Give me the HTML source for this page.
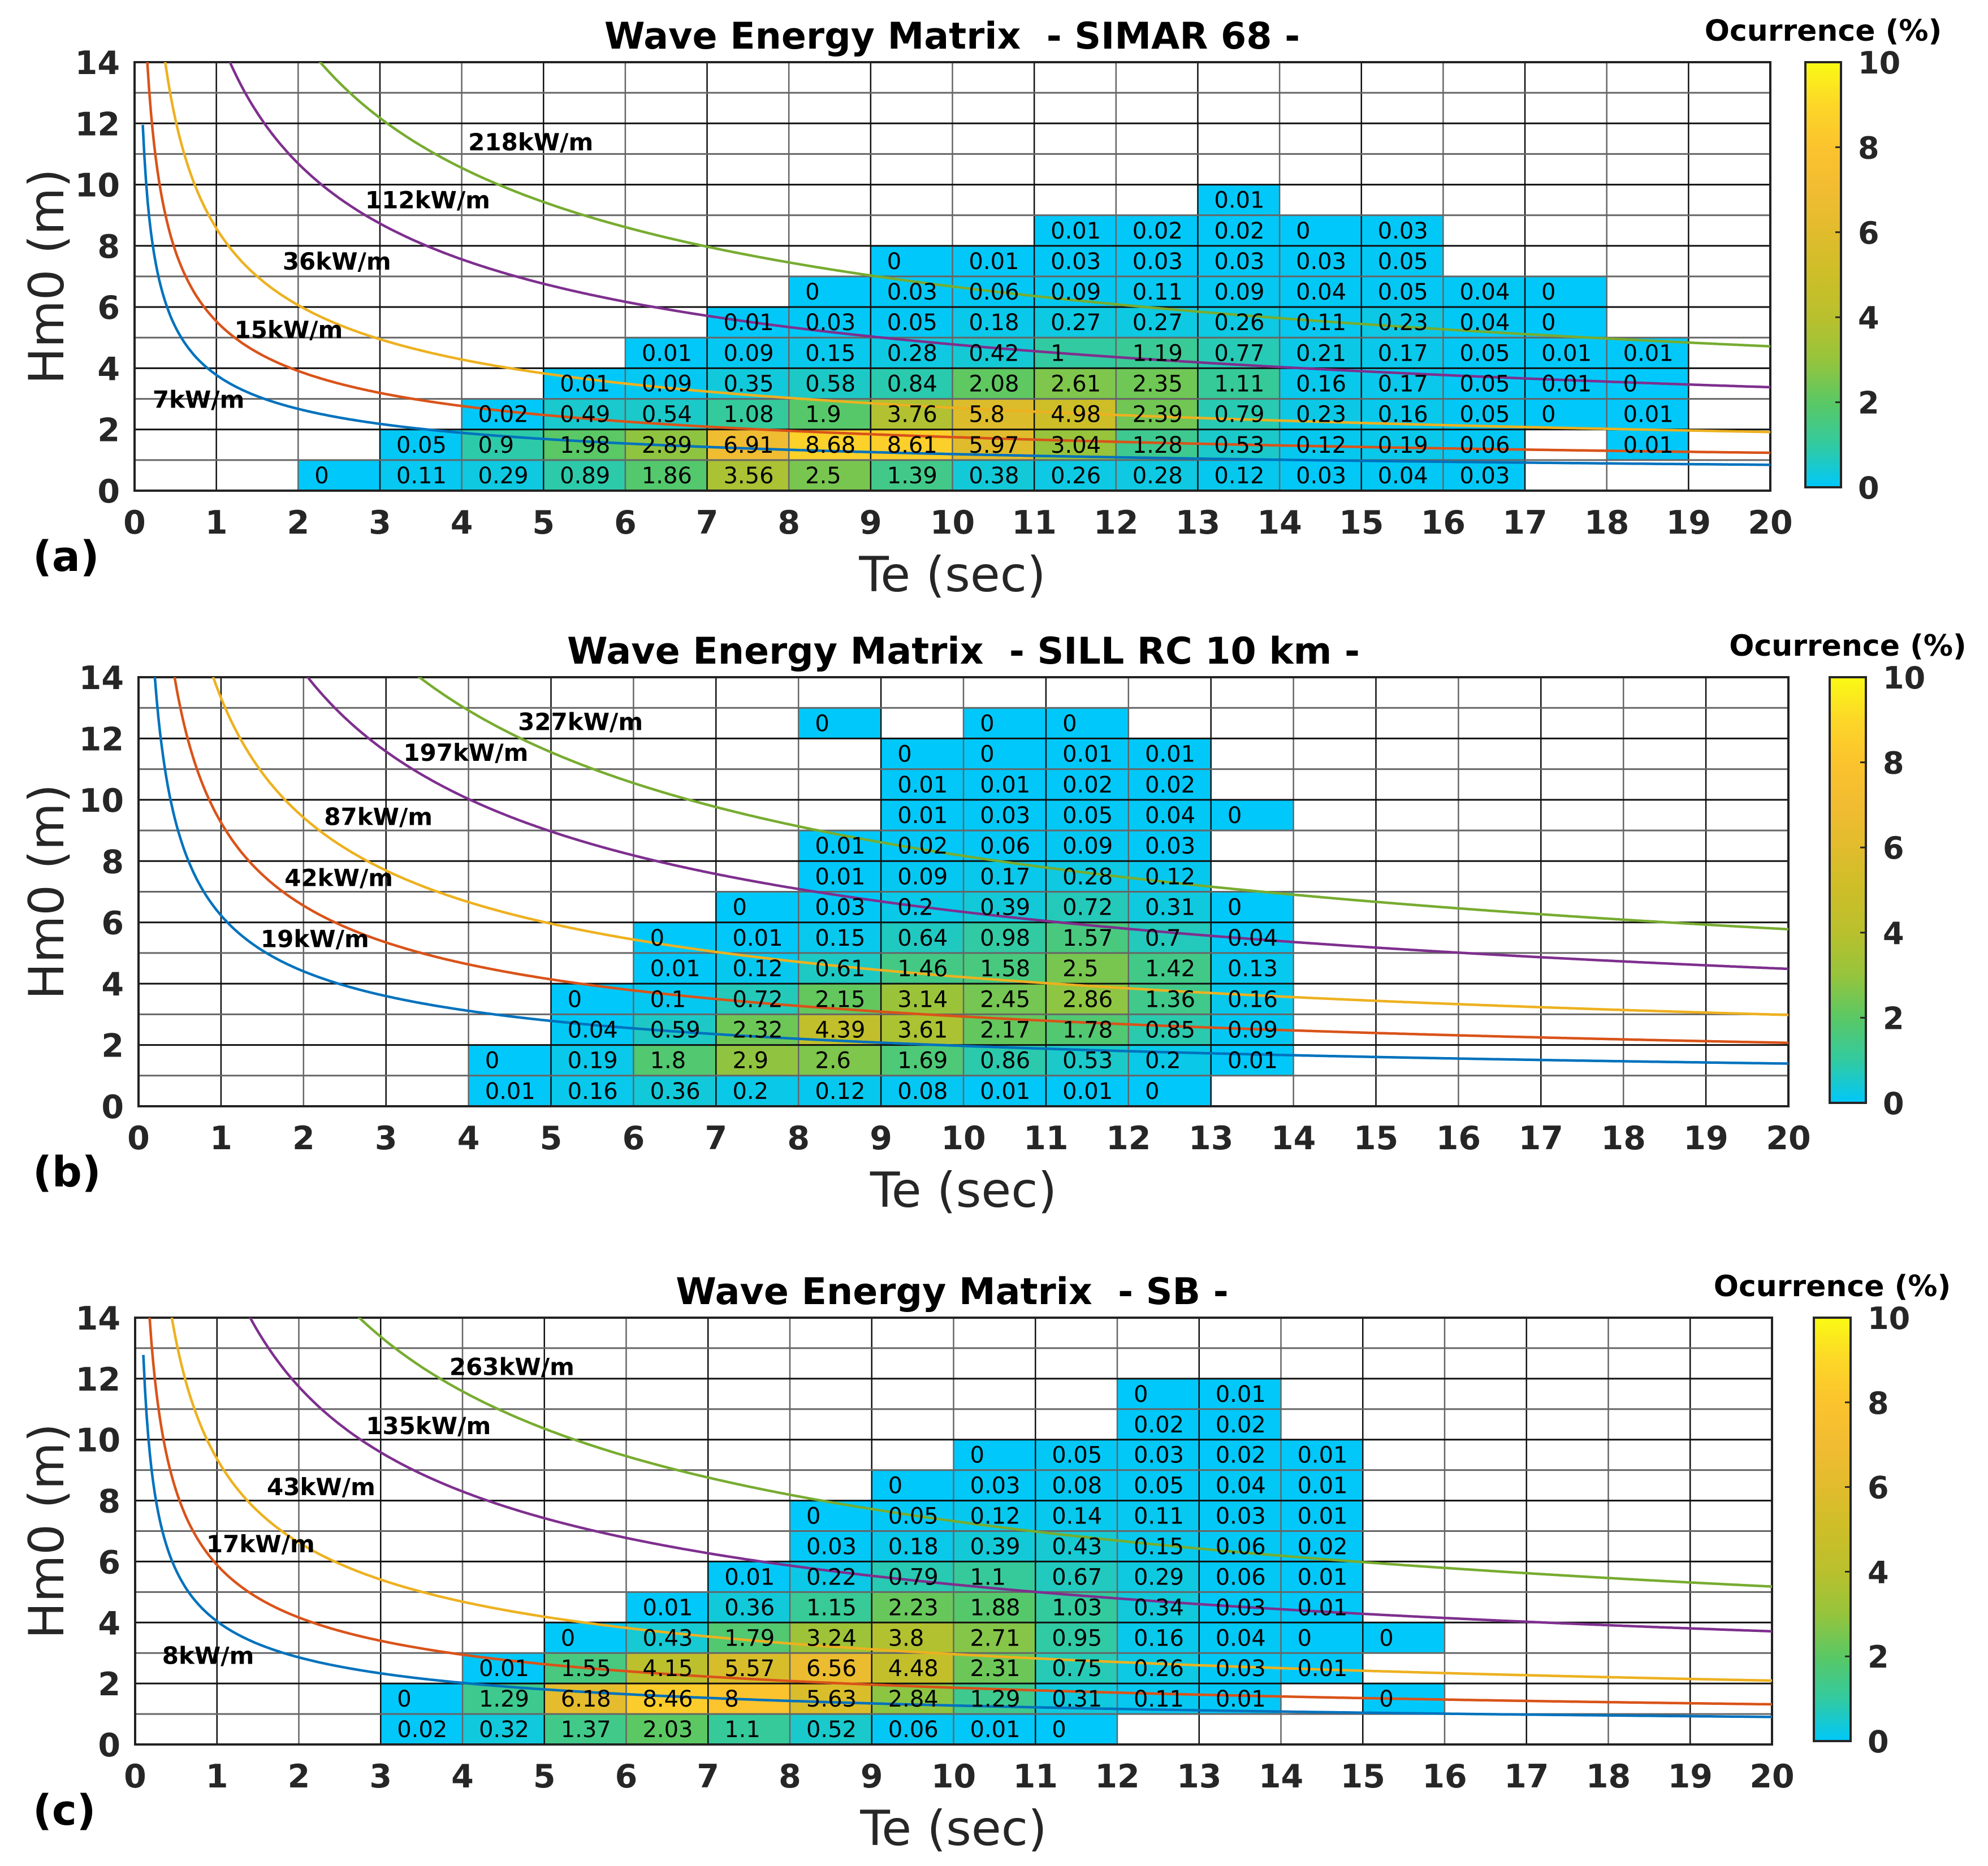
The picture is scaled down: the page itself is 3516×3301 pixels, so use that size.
<!DOCTYPE html>
<html><head><meta charset="utf-8">
<style>
html,body{margin:0;padding:0;background:#fff;}
svg{display:block;}
text{font-family:"DejaVu Sans","Liberation Sans",sans-serif;}
</style></head>
<body>
<svg id="fig" xmlns="http://www.w3.org/2000/svg" width="3516" height="3301" viewBox="0 0 3516 3301">
<defs>
<linearGradient id="cmap" x1="0" y1="1" x2="0" y2="0">
<stop offset="0" stop-color="rgb(0,200,250)"/>
<stop offset="0.1" stop-color="rgb(50,202,160)"/>
<stop offset="0.2" stop-color="rgb(90,200,100)"/>
<stop offset="0.3" stop-color="rgb(150,196,60)"/>
<stop offset="0.4" stop-color="rgb(185,192,45)"/>
<stop offset="0.5" stop-color="rgb(205,190,40)"/>
<stop offset="0.6" stop-color="rgb(225,188,45)"/>
<stop offset="0.7" stop-color="rgb(242,188,50)"/>
<stop offset="0.8" stop-color="rgb(251,195,45)"/>
<stop offset="0.9" stop-color="rgb(252,215,40)"/>
<stop offset="1" stop-color="rgb(250,250,20)"/>
</linearGradient>
</defs>
</svg>
<script>
const aRows = [
 {start:2, vals:[0,0.11,0.29,0.89,1.86,3.56,2.5,1.39,0.38,0.26,0.28,0.12,0.03,0.04,0.03]},
 {start:3, vals:[0.05,0.9,1.98,2.89,6.91,8.68,8.61,5.97,3.04,1.28,0.53,0.12,0.19,0.06,null,0.01]},
 {start:4, vals:[0.02,0.49,0.54,1.08,1.9,3.76,5.8,4.98,2.39,0.79,0.23,0.16,0.05,0,0.01]},
 {start:5, vals:[0.01,0.09,0.35,0.58,0.84,2.08,2.61,2.35,1.11,0.16,0.17,0.05,0.01,0]},
 {start:6, vals:[0.01,0.09,0.15,0.28,0.42,1,1.19,0.77,0.21,0.17,0.05,0.01,0.01]},
 {start:7, vals:[0.01,0.03,0.05,0.18,0.27,0.27,0.26,0.11,0.23,0.04,0]},
 {start:8, vals:[0,0.03,0.06,0.09,0.11,0.09,0.04,0.05,0.04,0]},
 {start:9, vals:[0,0.01,0.03,0.03,0.03,0.03,0.05]},
 {start:11, vals:[0.01,0.02,0.02,0,0.03]},
 {start:13, vals:[0.01]}
];
const bRows = [
 {start:4, vals:[0.01,0.16,0.36,0.2,0.12,0.08,0.01,0.01,0]},
 {start:4, vals:[0,0.19,1.8,2.9,2.6,1.69,0.86,0.53,0.2,0.01]},
 {start:5, vals:[0.04,0.59,2.32,4.39,3.61,2.17,1.78,0.85,0.09]},
 {start:5, vals:[0,0.1,0.72,2.15,3.14,2.45,2.86,1.36,0.16]},
 {start:6, vals:[0.01,0.12,0.61,1.46,1.58,2.5,1.42,0.13]},
 {start:6, vals:[0,0.01,0.15,0.64,0.98,1.57,0.7,0.04]},
 {start:7, vals:[0,0.03,0.2,0.39,0.72,0.31,0]},
 {start:8, vals:[0.01,0.09,0.17,0.28,0.12]},
 {start:8, vals:[0.01,0.02,0.06,0.09,0.03]},
 {start:9, vals:[0.01,0.03,0.05,0.04,0]},
 {start:9, vals:[0.01,0.01,0.02,0.02]},
 {start:9, vals:[0,0,0.01,0.01]},
 {start:8, vals:[0,null,0,0]}
];
const cRows = [
 {start:3, vals:[0.02,0.32,1.37,2.03,1.1,0.52,0.06,0.01,0]},
 {start:3, vals:[0,1.29,6.18,8.46,8,5.63,2.84,1.29,0.31,0.11,0.01,null,0]},
 {start:4, vals:[0.01,1.55,4.15,5.57,6.56,4.48,2.31,0.75,0.26,0.03,0.01]},
 {start:5, vals:[0,0.43,1.79,3.24,3.8,2.71,0.95,0.16,0.04,0,0]},
 {start:6, vals:[0.01,0.36,1.15,2.23,1.88,1.03,0.34,0.03,0.01]},
 {start:7, vals:[0.01,0.22,0.79,1.1,0.67,0.29,0.06,0.01]},
 {start:8, vals:[0.03,0.18,0.39,0.43,0.15,0.06,0.02]},
 {start:8, vals:[0,0.05,0.12,0.14,0.11,0.03,0.01]},
 {start:9, vals:[0,0.03,0.08,0.05,0.04,0.01]},
 {start:10, vals:[0,0.05,0.03,0.02,0.01]},
 {start:12, vals:[0.02,0.02]},
 {start:12, vals:[0,0.01]}
];
const aPowers = [7,15,36,112,218];
const bPowers = [19,42,87,197,327];
const cPowers = [8,17,43,135,263];
const aLabelPos = [[0.22,2.98],[1.22,5.26],[1.81,7.5],[2.82,9.5],[4.08,11.4]];
const bLabelPos = [[1.48,5.47],[1.77,7.46],[2.25,9.45],[3.21,11.55],[4.6,12.55]];
const cLabelPos = [[0.33,2.92],[0.87,6.58],[1.61,8.46],[2.82,10.46],[3.84,12.4]];
const xTicks = [0,1,2,3,4,5,6,7,8,9,10,11,12,13,14,15,16,17,18,19,20];
const yTicks = [0,2,4,6,8,10,12,14];
const cbTicks = [0,2,4,6,8,10];

const NS = "http://www.w3.org/2000/svg";
const svg = document.getElementById('fig');
const curveColors = ['#0072bd','#d95319','#edb120','#7e2f8e','#77ac30'];
const stops = [[0,200,250],[50,202,160],[90,200,100],[150,196,60],[185,192,45],[205,190,40],[225,188,45],[242,188,50],[251,195,45],[252,215,40],[250,250,20]];
function cmap(v){
  v=Math.max(0,Math.min(10,v));
  const i=Math.min(9,Math.floor(v)); const f=v-i;
  const a=stops[i], b=stops[i+1];
  return 'rgb('+a.map((c,k)=>Math.round(c+(b[k]-c)*f)).join(',')+')';
}
function el(tag, attrs, parent){
  const e=document.createElementNS(NS,tag);
  for(const k in attrs) e.setAttribute(k,attrs[k]);
  (parent||svg).appendChild(e); return e;
}

function panel(cfg){
  const g=el('g',{});
  
  
  const X=t=>cfg.L+(cfg.R-cfg.L)*t/20;
  const Y=h=>cfg.B-(cfg.B-cfg.T)*h/14;
  cfg.rows.forEach((row,r)=>{
    row.vals.forEach((v,k)=>{
      if(v===null) return;
      const c=row.start+k;
      const rc=el('rect',{x:X(c),y:Y(r+1),width:X(c+1)-X(c),height:Y(r)-Y(r+1),fill:cmap(v)},g);
      
      
    });
  });
  for(let i=0;i<=20;i++){
    const ln=el('line',{x1:X(i),x2:X(i),y1:cfg.T,y2:cfg.B,stroke:i%2?'#111':'#666','stroke-width':2.5},g);
    
    
  }
  for(let j=0;j<=14;j++){
    const ln=el('line',{x1:cfg.L,x2:cfg.R,y1:Y(j),y2:Y(j),stroke:j%2?'#666':'#111','stroke-width':3},g);
    
    
  }
  const fr=el('rect',{x:cfg.L,y:cfg.T,width:cfg.R-cfg.L,height:cfg.B-cfg.T,fill:'none',stroke:'#222','stroke-width':4},g);
  
  
  const cid='clip'+cfg.id;
  const cp=el('clipPath',{id:cid},g);
  el('rect',{x:cfg.L,y:cfg.T,width:cfg.R-cfg.L,height:cfg.B-cfg.T},cp);
  cfg.powers.forEach((P,k)=>{
    let d='';
    for(let t=0.1;t<=20.0001;t+=0.02){
      const h=Math.sqrt(P/(0.49*t));
      d+=(d?'L':'M')+X(t).toFixed(1)+','+Y(h).toFixed(1);
    }
    const p=el('path',{d:d,fill:'none',stroke:curveColors[k],'stroke-width':4.5,'clip-path':'url(#'+cid+')'},g);
    
    
  });
  cfg.rows.forEach((row,r)=>{
    row.vals.forEach((v,k)=>{
      if(v===null) return;
      const c=row.start+k;
      const t=el('text',{x:X(c+0.2),y:Y(r+0.5)+14,'font-size':40,fill:'#000'},g);
      t.textContent=String(v);
      
      
    });
  });
  cfg.powers.forEach((P,k)=>{
    const pos=cfg.labels[k];
    const t=el('text',{x:X(pos[0]),y:Y(pos[1])+15,'font-size':42,'font-weight':'bold',fill:'#000'},g);
    t.textContent=P+'kW/m';
    
    
  });
  xTicks.forEach(v=>{
    const t=el('text',{x:X(v),y:cfg.B+76,'font-size':57,'font-weight':'bold',fill:'#262626','text-anchor':'middle'},g);
    t.textContent=v;
    
    
  });
  yTicks.forEach(v=>{
    const t=el('text',{x:cfg.L-26,y:Y(v)+21,'font-size':57,'font-weight':'bold',fill:'#262626','text-anchor':'end'},g);
    t.textContent=v;
    
    
  });
  const xt=el('text',{x:(cfg.L+cfg.R)/2,y:cfg.B+178,'font-size':86,fill:'#262626','text-anchor':'middle'},g);
  xt.textContent='Te (sec)';
  
  
  const ym=(cfg.T+cfg.B)/2;
  const yt=el('text',{x:0,y:0,'font-size':86,fill:'#262626','text-anchor':'middle',transform:'translate(112,'+ym+') rotate(-90)'},g);
  yt.textContent='Hm0 (m)';
  
  
  const pl=el('text',{x:58,y:cfg.B+142,'font-size':74,'font-weight':'bold',fill:'#000'},g);
  pl.textContent=cfg.letter;
  
  
  const ti=el('text',{x:cfg.titleX,y:cfg.T-24,'font-size':65,'font-weight':'bold',fill:'#000','text-anchor':'middle','xml:space':'preserve'},g);
  ti.setAttributeNS('http://www.w3.org/XML/1998/namespace','xml:space','preserve');
  ti.textContent=cfg.title;
  
  
  const cb=el('rect',{x:cfg.cbL,y:cfg.T,width:cfg.cbW,height:cfg.B-cfg.T-6,fill:'url(#cmap)',stroke:'#262626','stroke-width':4},g);
  
  
  const cbH=cfg.B-cfg.T-6;
  cbTicks.forEach(v=>{
    const yy=cfg.T+cbH-cbH*v/10;
    el('line',{x1:cfg.cbL+cfg.cbW-10,x2:cfg.cbL+cfg.cbW,y1:yy,y2:yy,stroke:'#262626','stroke-width':3},g);
    const t=el('text',{x:cfg.cbL+cfg.cbW+30,y:yy+20,'font-size':54,'font-weight':'bold',fill:'#262626'},g);
    t.textContent=v;
    
    
  });
  const ct=el('text',{x:cfg.cbL+cfg.cbW/2,y:cfg.T-38,'font-size':52,'font-weight':'bold',fill:'#000','text-anchor':'middle'},g);
  ct.textContent='Ocurrence (%)';
  
  
}

panel({id:'a',name:'panel-a',letter:'(a)',title:'Wave Energy Matrix  - SIMAR 68 -',titleX:1684,L:238,R:3131,T:110,B:868,rows:aRows,powers:aPowers,labels:aLabelPos,cbL:3193,cbW:63});
panel({id:'b',name:'panel-b',letter:'(b)',title:'Wave Energy Matrix  - SILL RC 10 km -',titleX:1704,L:245,R:3163,T:1198,B:1957,rows:bRows,powers:bPowers,labels:bLabelPos,cbL:3236,cbW:64});
panel({id:'c',name:'panel-c',letter:'(c)',title:'Wave Energy Matrix  - SB -',titleX:1684,L:239,R:3134,T:2331,B:3086,rows:cRows,powers:cPowers,labels:cLabelPos,cbL:3208,cbW:65});
</script>
</body></html>
